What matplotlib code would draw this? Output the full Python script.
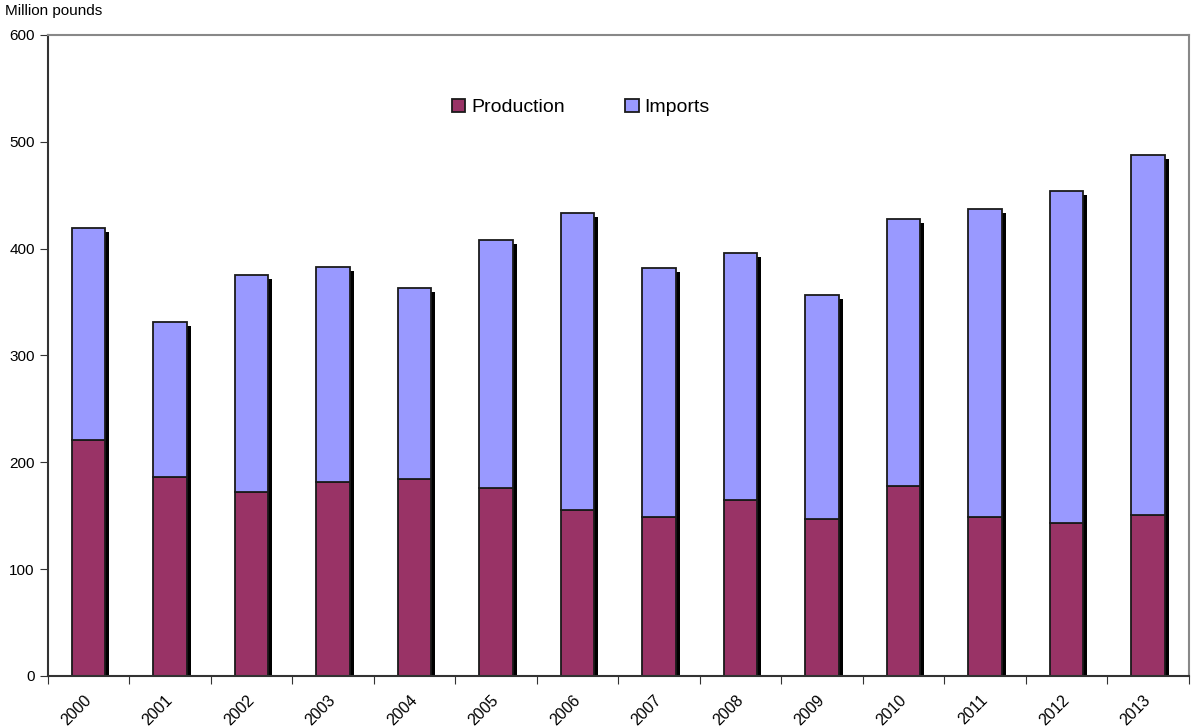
import numpy as np
import matplotlib.pyplot as plt
import matplotlib.transforms as mtransforms

plt.rcParams['font.family'] = ['Liberation Sans', 'DejaVu Sans']

# データ
years = ['2000', '2001', '2002', '2003', '2004', '2005', '2006',
         '2007', '2008', '2009', '2010', '2011', '2012', '2013']
production = [221, 186, 172, 182, 184, 176, 155, 149, 165, 147, 178, 149, 143, 151]
total = [419, 331, 375, 383, 363, 408, 433, 382, 396, 357, 428, 437, 454, 488]
imports = [t - p for t, p in zip(total, production)]

fig = plt.figure(figsize=(11.93, 7.27), dpi=100)
ax = fig.add_axes([0.0402, 0.0702, 0.9564, 0.8817])

x = np.arange(len(years))
w = 0.41

# 影
ax.bar(x + 0.05, np.array(total) - 3.7, w, color='black', zorder=1)
ax.bar(x, production, w, color='#993366', edgecolor='#1a1a1a', linewidth=1.3,
       label='Production', zorder=2)
ax.bar(x, imports, w, bottom=production, color='#9999ff', edgecolor='#1a1a1a',
       linewidth=1.3, label='Imports', zorder=2)

ax.set_xlim(-0.5, len(years) - 0.5)
ax.set_ylim(0, 600)
ax.set_yticks(range(0, 601, 100))
ax.set_xticks(np.arange(-0.5, len(years), 1.0))
ax.set_xticklabels([])
ax.set_xticks(x, minor=True)
ax.set_xticklabels(years, minor=True, rotation=45, ha='right',
                   rotation_mode='anchor', fontsize=11.5)
ax.tick_params(axis='x', which='minor', length=0, pad=12)
ax.tick_params(axis='x', which='major', length=6, direction='out', color='#333333')
ax.tick_params(axis='y', length=6, direction='out', labelsize=11, color='#333333')

# ラベルを少し左へ
off = mtransforms.ScaledTranslation(-5 / 100, 0, fig.dpi_scale_trans)
for lab in ax.get_xticklabels(minor=True):
    lab.set_transform(lab.get_transform() + off)

for s in ['left', 'bottom']:
    ax.spines[s].set_color('#333333')
    ax.spines[s].set_linewidth(1.5)
for s in ['top', 'right']:
    ax.spines[s].set_color('#888888')
    ax.spines[s].set_linewidth(1.5)

fig.text(0.004, 0.975, 'Million pounds', fontsize=11, va='bottom', ha='left')

ax.legend(loc='upper center', bbox_to_anchor=(0.467, 0.928), ncol=2, frameon=False,
          fontsize=14, handlelength=0.7, handleheight=0.7, columnspacing=3.1,
          handletextpad=0.3)

plt.savefig('out.png', dpi=100)
